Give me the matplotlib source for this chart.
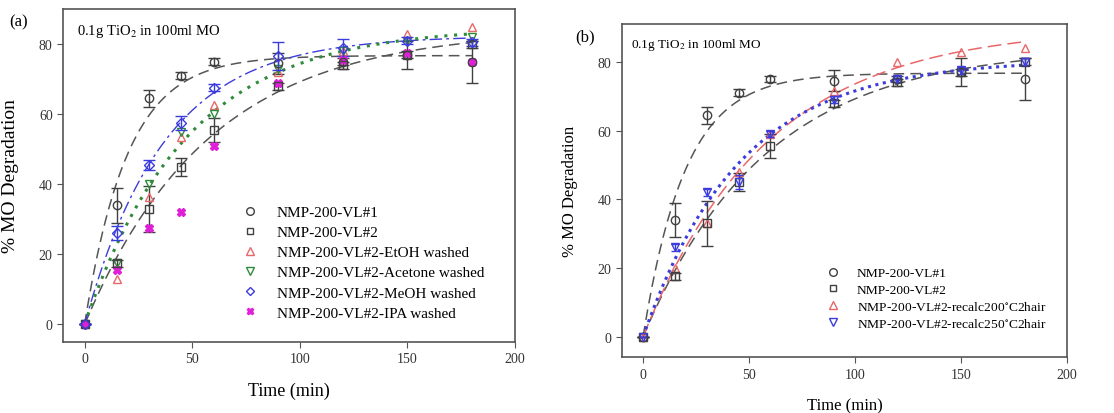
import numpy as np
import matplotlib
matplotlib.use('Agg')
import matplotlib.pyplot as plt
from matplotlib.lines import Line2D

plt.rcParams['font.family'] = ['Liberation Serif', 'DejaVu Serif']
plt.rcParams['mathtext.fontset'] = 'stix'

# time points (min)
time = [0, 15, 30, 45, 60, 90, 120, 150, 180]

# panel (a) data, % MO degradation
vl1 = [0, 34, 64.5, 71, 75, 74.5, 75, 77, 75]
vl1_err = [0, 5, 2.5, 1, 1, 3, 1, 4, 6]
vl2 = [0, 17.5, 33, 45, 55.5, 68, 74, 77, 80]
vl2_err = [0, 1, 6.5, 2.5, 3.5, 1, 1, 1, 1]
etoh = [0, 13, 36.5, 53.5, 62.5, 72, 78, 83, 85]
acetone = [0, 17.5, 40, 55, 60, 73, 78, 81, 82]
meoh = [0, 26, 45.5, 57.5, 67.5, 76.5, 79, 81, 80.5]
meoh_err = [0, 2, 1.5, 2, 1, 4, 2.5, 1, 1]
ipa = [0, 15.5, 27.5, 32, 51, 69, 75.5, 77.5, 75]

# panel (b) data
recalc200 = [0, 20, 33, 48, 59, 71.5, 80, 83, 84]
recalc250 = [0, 26, 42, 45, 59, 69, 75, 77.5, 80]
recalc250_err = [0, 1, 1, 2, 1, 1, 1, 1, 1]


def fit_curve(t, y):
    # first-order fit y = a(1 - exp(-k t)), grid search on k, least squares on a
    t = np.asarray(t, float)
    y = np.asarray(y, float)
    best = None
    for k in np.linspace(0.002, 0.2, 2000):
        f = 1 - np.exp(-k * t)
        a = (f @ y) / (f @ f)
        r = np.sum((y - a * f) ** 2)
        if best is None or r < best[0]:
            best = (r, a, k)
    tt = np.linspace(0, 180, 300)
    return tt, best[1] * (1 - np.exp(-best[2] * tt))


def key(marker, color, filled=False, size=5.5):
    # legend entry showing only the marker
    return Line2D([], [], ls='none', marker=marker, ms=size,
                  mfc=color if filled else 'none', mec=color)


fig = plt.figure(figsize=(11.14, 4.14), dpi=100)
ax1 = fig.add_axes([0.0566, 0.1715, 0.4057, 0.8043])
ax2 = fig.add_axes([0.5583, 0.135, 0.3995, 0.8043])

blk = '#404040'
red = '#e8686a'
grn = '#2e8b3a'
blu = '#3c3cdc'
mag = '#e020d8'

dash = (0, (7, 4))
ms = 6

# ---- panel (a)
tt, yy = fit_curve(time, vl1)
ax1.plot(tt, yy, color='#555555', ls=dash, lw=1.1)
tt, yy = fit_curve(time, vl2)
ax1.plot(tt, yy, color='#555555', ls=dash, lw=1.1)
tt, yy = fit_curve(time, meoh)
ax1.plot(tt, yy, color=blu, ls=(0, (9, 3, 2, 3)), lw=1.0)
tt, yy = fit_curve(time, acetone)
ax1.plot(tt, yy, color=grn, ls=(0, (1, 2.2)), lw=2.2)

ax1.errorbar(time, vl1, yerr=vl1_err, fmt='o', mfc='none', mec=blk, ecolor=blk,
             ms=ms, capsize=4, elinewidth=1)
ax1.errorbar(time, vl2, yerr=vl2_err, fmt='s', mfc='none', mec=blk, ecolor=blk,
             ms=ms - 0.5, capsize=4, elinewidth=1)
ax1.plot(time, etoh, '^', mfc='none', mec=red, ms=ms)
ax1.plot(time, acetone, 'v', mfc='none', mec=grn, ms=ms)
ax1.errorbar(time, meoh, yerr=meoh_err, fmt='D', mfc='none', mec=blu, ecolor=blu,
             ms=ms - 1, capsize=4, elinewidth=1)
ax1.plot(time, ipa, 'X', color=mag, ms=ms)

ax1.set_xlim(-10, 200)
ax1.set_ylim(-5, 90)
ax1.set_xticks([0, 50, 100, 150, 200])
ax1.set_yticks([0, 20, 40, 60, 80])
ax1.set_xlabel('Time (min)', fontsize=13, labelpad=12)
ax1.set_ylabel('% MO Degradation', fontsize=14, labelpad=14)
ax1.text(0.03, 0.96, '0.1g TiO$_2$ in 100ml MO', transform=ax1.transAxes,
         fontsize=10.5, va='top')
fig.text(0.008, 0.965, '(a)', fontsize=12, va='top')

labels_a = ['NMP-200-VL#1', 'NMP-200-VL#2', 'NMP-200-VL#2-EtOH washed',
            'NMP-200-VL#2-Acetone washed', 'NMP-200-VL#2-MeOH washed',
            'NMP-200-VL#2-IPA washed']
handles_a = [key('o', blk), key('s', blk, size=5), key('^', red), key('v', grn),
             key('D', blu, size=4.5), key('X', mag, filled=True, size=5)]
ax1.legend(handles_a, labels_a, loc='lower right', bbox_to_anchor=(0.955, 0.035),
           frameon=False, fontsize=11, handletextpad=1.0, handlelength=1.5,
           labelspacing=0.42, borderaxespad=0.3)

# ---- panel (b)
tt, yy = fit_curve(time, vl1)
ax2.plot(tt, yy, color='#555555', ls=dash, lw=1.1)
tt, yy = fit_curve(time, vl2)
ax2.plot(tt, yy, color='#555555', ls=dash, lw=1.1)
tt, yy = fit_curve(time, recalc200)
ax2.plot(tt, yy, color=red, ls=(0, (9, 4)), lw=1.1)
tt, yy = fit_curve(time, recalc250)
ax2.plot(tt, yy, color=blu, ls=(0, (1, 1.5)), lw=2.2)

ax2.errorbar(time, vl1, yerr=vl1_err, fmt='o', mfc='none', mec=blk, ecolor=blk,
             ms=ms, capsize=4, elinewidth=1)
ax2.errorbar(time, vl2, yerr=vl2_err, fmt='s', mfc='none', mec=blk, ecolor=blk,
             ms=ms - 0.5, capsize=4, elinewidth=1)
ax2.plot(time, recalc200, '^', mfc='none', mec=red, ms=ms)
ax2.errorbar(time, recalc250, yerr=recalc250_err, fmt='v', mfc='none', mec=blu,
             ecolor=blu, ms=ms, capsize=3, elinewidth=1)

ax2.set_xlim(-10, 200)
ax2.set_ylim(-6, 91)
ax2.set_xticks([0, 50, 100, 150, 200])
ax2.set_yticks([0, 20, 40, 60, 80])
ax2.set_xlabel('Time (min)', fontsize=12, labelpad=12)
ax2.set_ylabel('% MO Degradation', fontsize=12, labelpad=14)
ax2.text(0.02, 0.965, '0.1g TiO$_2$ in 100ml MO', transform=ax2.transAxes,
         fontsize=9.5, va='top')
fig.text(0.516, 0.93, '(b)', fontsize=12, va='top')

labels_b = ['NMP-200-VL#1', 'NMP-200-VL#2',
            'NMP-200-VL#2-recalc200$^{\\circ}$C2hair',
            'NMP-200-VL#2-recalc250$^{\\circ}$C2hair']
handles_b = [key('o', blk), key('s', blk, size=5), key('^', red), key('v', blu)]
ax2.legend(handles_b, labels_b, loc='lower right', bbox_to_anchor=(0.975, 0.053),
           frameon=False, fontsize=9.7, handletextpad=1.0, handlelength=1.5,
           labelspacing=0.3, borderaxespad=0.3)

for ax in (ax1, ax2):
    ax.tick_params(labelsize=10, direction='out', length=4, color='#555555',
                   labelcolor='#333333')
    for s in ax.spines.values():
        s.set_color('#555555')
        s.set_linewidth(1.2)

fig.savefig('out.png', dpi=100)
